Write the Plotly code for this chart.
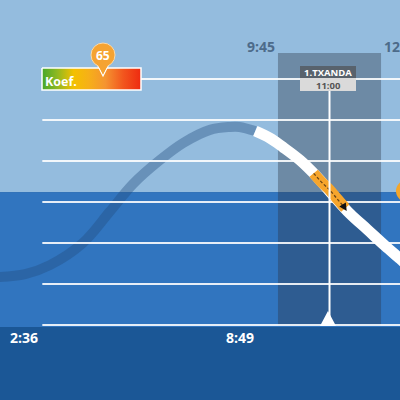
import plotly.graph_objects as go

# ---------------- data ----------------
faint_times = ["03:00", "03:37", "04:13", "05:01", "05:40", "06:14", "06:53",
               "07:27", "08:06", "08:35", "08:49", "09:12"]
faint_heights = [1.17, 1.24, 1.46, 2.00, 2.76, 3.44, 4.02, 4.44, 4.76, 4.83, 4.83, 4.73]

white_times = ["09:12", "09:33", "09:52", "10:17", "10:42", "11:05", "11:30",
               "11:55", "12:21", "12:43", "12:50"]
white_heights = [4.73, 4.56, 4.34, 4.02, 3.61, 3.17, 2.71, 2.33, 1.93, 1.61, 1.50]

orange_times = ["10:37", "10:48", "11:00", "11:10", "11:23"]
orange_heights = [3.70, 3.49, 3.30, 3.10, 2.85]

grid_levels = [0, 1, 2, 3, 4, 5, 6]
grid_start = "04:02"
sea_level = 3.24

low_label = "2:36"
high_label = "8:49"
high_time = "08:49"
window_start = "09:45"
window_end = "12:15"
window_start_label = "9:45"
window_end_label = "12:15"
turn_name = "1.TXANDA"
turn_time = "11:00"
koef_value = "65"


def tm(s):
    h, m = s.split(":")
    return int(h) * 60 + int(m)


X_RANGE = [180.4, 762.6]
Y_RANGE = [-1.829, 7.927]

FONT = "Open Sans"
SKY = "#94BCDE"
SEA = "#3175BF"
DEEP = "#1B5796"

fig = go.Figure()

# faint past curve
fig.add_trace(go.Scatter(x=[tm(t) for t in faint_times], y=faint_heights, mode="lines",
                         line=dict(color="rgba(35,75,125,0.38)", width=10, shape="spline"),
                         hoverinfo="skip"))

# grid lines
for lv in grid_levels:
    fig.add_trace(go.Scatter(x=[tm(grid_start), X_RANGE[1] + 20], y=[lv, lv], mode="lines",
                             line=dict(color="rgba(255,255,255,0.88)", width=2),
                             hoverinfo="skip"))

# future curve
fig.add_trace(go.Scatter(x=[tm(t) for t in white_times], y=white_heights, mode="lines",
                         line=dict(color="white", width=11, shape="spline"),
                         hoverinfo="skip"))
fig.add_trace(go.Scatter(x=[tm(t) for t in orange_times], y=orange_heights, mode="lines",
                         line=dict(color="#F6A52C", width=11, shape="spline"),
                         hoverinfo="skip"))
fig.add_trace(go.Scatter(x=[tm(t) for t in orange_times[:-1]] + [tm(orange_times[-1]) + 1],
                         y=orange_heights[:-1] + [orange_heights[-1] - 0.03], mode="lines",
                         line=dict(color="#6A4516", width=1.3, dash="3px,2px"),
                         hoverinfo="skip"))

# koef bar (pixel overlay axes)
fig.add_trace(go.Scatter(x=[42, 141, 141, 42, 42], y=[68, 68, 90, 90, 68], mode="lines",
                         fill="toself",
                         fillgradient=dict(type="horizontal",
                                           colorscale=[[0, "#46A82C"], [0.15, "#8DB822"],
                                                       [0.32, "#F4C000"], [0.47, "#F6B018"],
                                                       [0.64, "#F59430"], [0.82, "#F2561E"],
                                                       [1, "#EE2A10"]]),
                         line=dict(color="white", width=1.5),
                         xaxis="x2", yaxis="y2", hoverinfo="skip"))

shapes = []
# backgrounds
shapes.append(dict(type="rect", xref="paper", yref="y", x0=0, x1=1, y0=sea_level, y1=Y_RANGE[1] + 1,
                   fillcolor=SKY, line_width=0, layer="below"))
shapes.append(dict(type="rect", xref="paper", yref="y", x0=0, x1=1, y0=-0.05, y1=sea_level,
                   fillcolor=SEA, line_width=0, layer="below"))
shapes.append(dict(type="rect", xref="paper", yref="y", x0=0, x1=1, y0=Y_RANGE[0] - 1, y1=-0.05,
                   fillcolor=DEEP, line_width=0, layer="below"))
# time window
shapes.append(dict(type="rect", xref="x", yref="y2", x0=tm(window_start), x1=tm(window_end),
                   y0=53, y1=326, fillcolor="rgba(42,50,64,0.36)", line_width=0, layer="below"))
# label boxes
shapes.append(dict(type="rect", xref="x2", yref="y2", x0=300, x1=356, y0=66, y1=78,
                   fillcolor="#58626C", line_width=0, layer="above"))
shapes.append(dict(type="rect", xref="x2", yref="y2", x0=300, x1=356, y0=78, y1=91,
                   fillcolor="#DADADA", line_width=0, layer="above"))
# turn line + triangle
shapes.append(dict(type="line", xref="x", yref="y2", x0=tm(turn_time), x1=tm(turn_time),
                   y0=91, y1=325, line=dict(color="white", width=2), layer="above"))
shapes.append(dict(type="path", xref="x2", yref="y2", path="M 320 326 L 336 326 L 328 311 Z",
                   fillcolor="white", line_width=0, layer="above"))
# koef pointer
shapes.append(dict(type="path", xref="x2", yref="y2", path="M 96 62 L 110 62 L 103 76 Z",
                   fillcolor="#F5A332", line=dict(color="white", width=1.2), layer="above"))
shapes.append(dict(type="circle", xref="x2", yref="y2", x0=91, x1=115, y0=43, y1=67,
                   fillcolor="#F5A332", line=dict(color="#FBD9A8", width=1), layer="above"))
shapes.append(dict(type="path", xref="x2", yref="y2", path="M 97.5 64 L 108.5 64 L 103 74 Z",
                   fillcolor="#F5A332", line_width=0, layer="above"))
# orange marker at right edge
shapes.append(dict(type="circle", xref="x2", yref="y2", x0=396, x1=418, y0=180, y1=202,
                   fillcolor="#F3A62A", line_width=0, layer="above"))

annotations = []
def txt(text, x, y, xref, yref, size, color, xanchor="center", yanchor="middle"):
    annotations.append(dict(text="<b>" + text + "</b>", x=x, y=y, xref=xref, yref=yref,
                            showarrow=False, xanchor=xanchor, yanchor=yanchor,
                            font=dict(family=FONT, size=size, color=color)))

txt(low_label, 8 / 400, 1 - 337 / 400, "paper", "paper", 14, "white", xanchor="left")
txt(high_label, tm(high_time), 1 - 337 / 400, "x", "paper", 14, "white")
txt(window_start_label, tm(window_start) - 1, 1 - 46 / 400, "x", "paper", 14, "#4D6B8A", xanchor="right")
txt(window_end_label, tm(window_end) + 1, 1 - 46 / 400, "x", "paper", 14, "#4D6B8A", xanchor="left")
txt(turn_name, 328, 72, "x2", "y2", 9.5, "white")
txt(turn_time, 328, 85, "x2", "y2", 9.5, "#555555")
txt("Koef.", 43, 81, "x2", "y2", 12.5, "white", xanchor="left")
txt(koef_value, 103, 55, "x2", "y2", 12, "white")

# arrowheads
annotations.append(dict(x=tm("09:15"), y=4.69, ax=tm("09:12"), ay=4.74, xref="x", yref="y",
                        axref="x", ayref="y", text="", showarrow=True, arrowhead=2,
                        arrowsize=1.1, arrowwidth=1.4, arrowcolor="#111111"))
annotations.append(dict(x=tm(orange_times[-1]) + 2, y=orange_heights[-1] - 0.07,
                        ax=tm(orange_times[-1]) - 1, ay=orange_heights[-1] + 0.01,
                        xref="x", yref="y", axref="x", ayref="y", text="", showarrow=True,
                        arrowhead=2, arrowsize=1.1, arrowwidth=1.4, arrowcolor="#111111"))

fig.update_layout(
    width=400, height=400, margin=dict(l=0, r=0, t=0, b=0),
    paper_bgcolor=DEEP, plot_bgcolor=DEEP, showlegend=False,
    xaxis=dict(range=X_RANGE, visible=False, fixedrange=True),
    yaxis=dict(range=Y_RANGE, visible=False, fixedrange=True),
    xaxis2=dict(range=[0, 400], visible=False, overlaying="x", fixedrange=True),
    yaxis2=dict(range=[400, 0], visible=False, overlaying="y", fixedrange=True),
    shapes=shapes, annotations=annotations,
)

fig.write_html("out.html", config={"displayModeBar": False},
               post_script="document.body.style.margin='0';document.body.style.overflow='hidden';")
